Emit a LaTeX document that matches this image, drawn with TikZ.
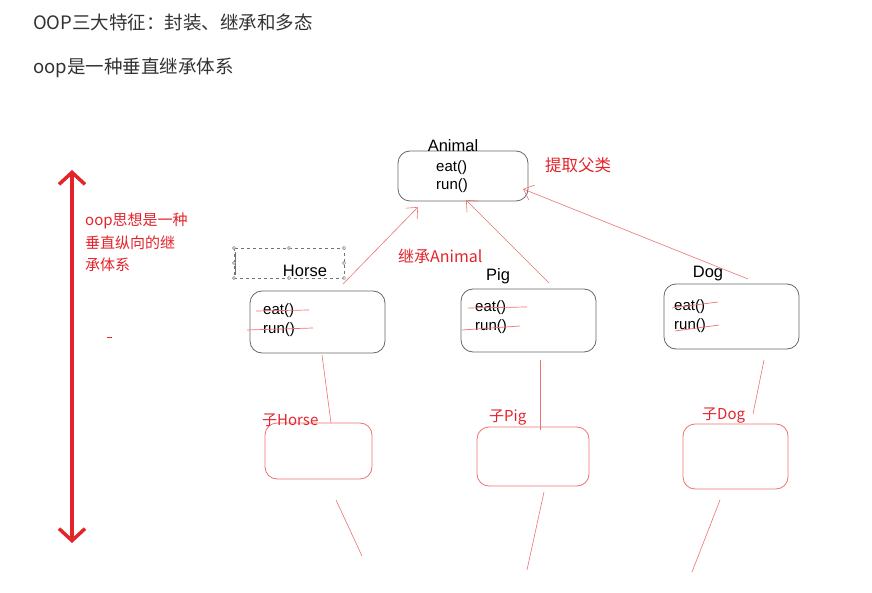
\documentclass[tikz,border=0pt]{standalone}
\usepackage{fontspec}
\setmainfont{Liberation Sans}
\newfontfamily\cjk{Noto Sans CJK SC}
\usetikzlibrary{arrows.meta}

\definecolor{txtgray}{HTML}{333333}
\definecolor{myred}{HTML}{E3242B}
\definecolor{linered}{HTML}{F07070}

\tikzset{
  cls/.style={draw=black!60, rounded corners=12pt, line width=0.8pt, inner sep=0pt},
  sub/.style={draw=linered, rounded corners=12pt, line width=0.8pt, inner sep=0pt},
  head/.style={anchor=west, inner sep=0pt, text=txtgray, font=\cjk\fontsize{18.5}{22}\selectfont},
  rednote/.style={anchor=west, inner sep=0pt, text=myred, font=\cjk\fontsize{15}{19}\selectfont},
  clsname/.style={inner sep=0pt, font=\fontsize{16.5}{19}\selectfont},
  meth/.style={anchor=west, inner sep=0pt, font=\fontsize{15}{18}\selectfont},
  strike/.style={draw=linered, line width=0.7pt},
  thinred/.style={draw=linered, line width=0.6pt},
  inherit/.style={thinred, -{Straight Barb[length=9pt,width=16pt]}},
  handle/.style={draw=black!55, fill=white, line width=0.5pt}
}

\begin{document}
\begin{tikzpicture}[x=1pt,y=-1pt]
\useasboundingbox (0,0) rectangle (872,593);

% title lines
\node[head] (t1) at (33,22) {OOP三大特征：封装、继承和多态};
\node[head] (t2) at (33,68) {oop是一种垂直继承体系};

% vertical arrow on the left
\coordinate (up) at (72,170);
\coordinate (down) at (72,543);
\draw[myred, line width=3.5pt,
  {Straight Barb[length=12pt,width=26pt]}-{Straight Barb[length=12pt,width=26pt]}] (up) -- (down);
\node[rednote] (n1) at (85,221) {oop思想是一种};
\node[rednote] (n2) at (85,243) {垂直纵向的继};
\node[rednote] (n3) at (85,265) {承体系};
\draw[myred, line width=1pt] (107,337) -- (112,337);

% parent class
\node[cls, minimum width=130pt, minimum height=50pt] (animal) at (463,176) {};
\node[clsname] (animalname) at (453,146) {Animal};
\node[meth] (aeat) at (436,168) {eat()};
\node[meth] (arun) at (436,186) {run()};
\node[rednote, font=\cjk\fontsize{16.5}{19}\selectfont] (extract) at (545,165) {提取父类};

% selection frame round Horse
\draw[black!55, dashed, line width=0.5pt] (234,248) rectangle (344,278);
\draw[black!55, line width=1.2pt] (235.5,252) -- (235.5,275);
\foreach \hx/\hy in {234/248,289/248,344/248,234/263,344/263,234/278,289/278,344/278}
  \draw[handle] (\hx,\hy) circle (1.6pt);

% subclasses
\node[clsname] (horsename) at (305,271) {Horse};
\node[cls, minimum width=135pt, minimum height=62pt] (horse) at (317.5,322) {};
\node[meth] (heat) at (263,311) {eat()};
\node[meth] (hrun) at (263,330) {run()};
\draw[strike] (256,311) -- (309,310);
\draw[strike] (247,330) -- (313,328);

\node[clsname] (pigname) at (498,276) {Pig};
\node[cls, minimum width=135pt, minimum height=63pt] (pig) at (528.5,320.5) {};
\node[meth] (peat) at (475,308) {eat()};
\node[meth] (prun) at (475,327) {run()};
\draw[strike] (468,308) -- (527,307);
\draw[strike] (462,330) -- (520,326);

\node[clsname] (dogname) at (708,274) {Dog};
\node[cls, minimum width=135pt, minimum height=65pt] (dog) at (731.5,316.5) {};
\node[meth] (deat) at (674,307) {eat()};
\node[meth] (drun) at (674,326) {run()};
\draw[strike] (672,308) -- (718,302);
\draw[strike] (675,331) -- (719,325);

% inheritance arrows
\coordinate (hfrom) at (343,284);
\coordinate (hto) at (418,207);
\coordinate (pfrom) at (549,283);
\coordinate (pto) at (466,200);
\coordinate (dfrom) at (748,279);
\coordinate (dto) at (523,189);
\draw[inherit] (hfrom) -- (hto);
\draw[inherit] (pfrom) -- (pto);
\draw[inherit] (dfrom) -- (dto);
\node[rednote, font=\cjk\fontsize{16}{19}\selectfont] (inh) at (398,256) {继承Animal};

% child boxes
\node[sub, minimum width=107pt, minimum height=56pt] (chorse) at (318.5,451) {};
\node[sub, minimum width=112pt, minimum height=59pt] (cpig) at (533,456.5) {};
\node[sub, minimum width=105pt, minimum height=65pt] (cdog) at (735.5,456.5) {};
\node[rednote] (lhorse) at (262,420) {子Horse};
\node[rednote] (lpig) at (489,418) {子Pig};
\node[rednote] (ldog) at (702,416) {子Dog};

% links between levels
\coordinate (h1) at (322,355);
\coordinate (h2) at (331,423);
\coordinate (p1) at (540,360);
\coordinate (p2) at (540,430);
\coordinate (d1) at (764,360);
\coordinate (d2) at (753,414);
\draw[thinred] (h1) -- (h2);
\draw[thinred] (p1) -- (p2);
\draw[thinred] (d1) -- (d2);

\coordinate (h3) at (336,500);
\coordinate (h4) at (362,556);
\coordinate (p3) at (544,492);
\coordinate (p4) at (527,570);
\coordinate (d3) at (720,500);
\coordinate (d4) at (692,572);
\draw[thinred] (h3) -- (h4);
\draw[thinred] (p3) -- (p4);
\draw[thinred] (d3) -- (d4);
\end{tikzpicture}
\end{document}
